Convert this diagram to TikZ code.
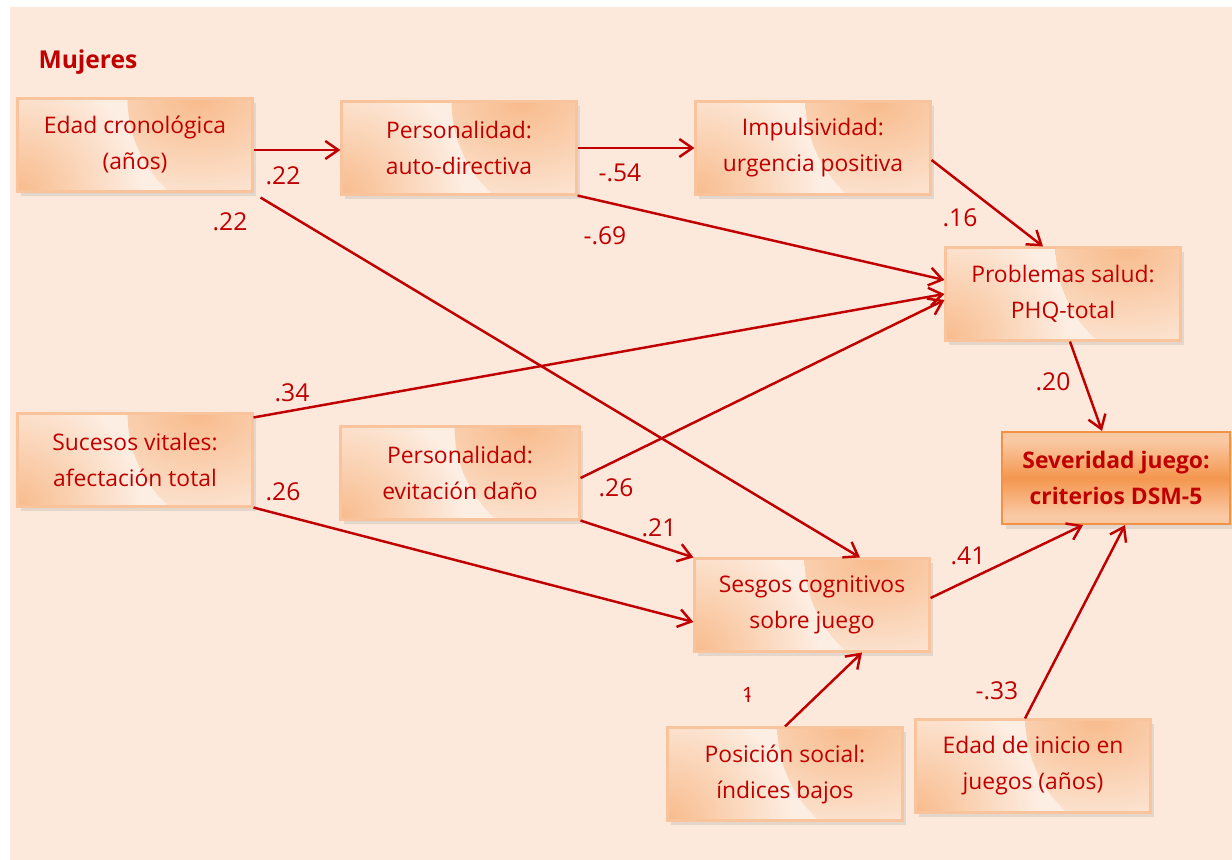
\documentclass[tikz,border=0pt]{standalone}
\usepackage{fontspec}
\setmainfont{Open Sans}
\usetikzlibrary{arrows.meta,shadows}

\definecolor{rojo}{HTML}{C00000}
\definecolor{fondo}{HTML}{FCE9DC}
\definecolor{naranja}{HTML}{F8BB8C}
\definecolor{crema}{HTML}{FDEEE3}
\definecolor{borde}{HTML}{F9C49B}
\definecolor{fuerte}{HTML}{F4964E}
\definecolor{fuerteborde}{HTML}{F39147}

\pgfdeclareradialshading{esquina}{\pgfpoint{0bp}{0bp}}{color(0bp)=(naranja); color(25bp)=(crema); color(50bp)=(crema)}
\pgfdeclareverticalshading{cajafuerte}{100bp}{color(0bp)=(naranja!80); color(30bp)=(naranja!80); color(50bp)=(fuerte);
  color(70bp)=(naranja!80); color(100bp)=(naranja!80)}

\begin{document}
\begin{tikzpicture}[font=\fontsize{13}{20.5}\selectfont, text=rojo]

% fondo
\fill[white] (0,0) rectangle (24.64,-17.2);
\fill[fondo] (0.2,-0.14) rectangle (24.64,-17.2);
\useasboundingbox (0,0) rectangle (24.64,-17.2);

\tikzstyle{box}=[rectangle,draw=borde,line width=1.2pt,minimum width=4.7cm,minimum height=1.86cm,
  align=center,inner sep=2pt,fill=crema,
  path picture={\shade[shading=esquina] (path picture bounding box.north east) circle (2.5cm);
    \shade[shading=esquina] (path picture bounding box.south west) circle (2.5cm);},
  drop shadow={shadow xshift=0.07cm,shadow yshift=-0.09cm,opacity=0.18}]
\tikzstyle{final}=[rectangle,draw=fuerteborde,line width=1.2pt,align=center,inner sep=2pt,
  shading=cajafuerte,drop shadow={shadow xshift=0.07cm,shadow yshift=-0.09cm,opacity=0.18},
  minimum width=4.56cm,minimum height=1.84cm,font=\fontsize{13}{20.5}\selectfont\bfseries]
\tikzstyle{coef}=[font=\fontsize{14}{16}\selectfont,inner sep=0pt]
\tikzstyle{path}=[draw=rojo,line width=1.4pt,-{Straight Barb[length=2.6mm,width=3.6mm,line width=1.4pt]}]

\node[font=\fontsize{14}{16}\selectfont\bfseries] (titulo) at (1.76,-1.24) {Mujeres};

  \foreach \name/\x/\y/\text in {edad/2.70/-2.90/{Edad cronológica\\(años)},
      autodir/9.18/-2.96/{Personalidad:\\auto-directiva},
      impuls/16.26/-2.96/{Impulsividad:\\urgencia positiva},
      phq/21.26/-5.88/{Problemas salud:\\PHQ-total},
      suc/2.70/-9.20/{Sucesos vitales:\\afectación total},
      sesgos/16.24/-12.10/{Sesgos cognitivos\\sobre juego},
      pos/15.70/-15.48/{Posición social:\\índices bajos},
      inicio/20.66/-15.32/{Edad de inicio en\\juegos (años)}}
    \node[box] (\name) at (\x,\y) {\text};
\node[box,minimum width=4.78cm] (evit) at (9.20,-9.46) {Personalidad:\\evitación daño};
\node[final] (sev) at (22.32,-9.56) {Severidad juego:\\criterios DSM-5};

  \draw[path] ([yshift=-0.1cm]edad.east) -- ([yshift=-0.04cm]autodir.west);
  \draw[path] ([xshift=0.14cm,yshift=-0.1cm]edad.south east) -- ([xshift=0.96cm]sesgos.north);
  \draw[path] (autodir.east) -- (impuls.west);
  \draw[path] (autodir.south east) -- ([yshift=0.28cm]phq.west);
  \draw[path] ([yshift=-0.24cm]impuls.east) -- ([xshift=-0.4cm]phq.north);
  \draw[path] ([yshift=-0.1cm]suc.north east) -- (phq.west);
  \draw[path] (suc.south east) -- ([yshift=-0.34cm]sesgos.west);
  \draw[path] ([yshift=-0.1cm]evit.east) -- ([yshift=-0.12cm]phq.west);
  \draw[path] (evit.south east) -- (sesgos.north west);
  \draw[path] ([xshift=0.14cm]phq.south) -- ([xshift=-0.28cm]sev.north);
  \draw[path] ([yshift=0.14cm]sesgos.east) -- ([xshift=-0.66cm]sev.south);
  \draw[path] (pos.north) -- ([xshift=1.0cm]sesgos.south);
  \draw[path] ([xshift=-0.16cm]inicio.north) -- ([xshift=0.18cm]sev.south);

  % coeficientes
  \node[coef] at (5.66,-3.52) {.22};
  \node[coef] at (4.60,-4.44) {.22};
  \node[coef] at (12.40,-3.46) {-.54};
  \node[coef] at (12.10,-4.72) {-.69};
  \node[coef] at (19.20,-4.36) {.16};
  \node[coef] at (5.84,-7.86) {.34};
  \node[coef] at (5.66,-9.84) {.26};
  \node[coef] at (12.32,-9.76) {.26};
  \node[coef] at (13.18,-10.56) {.21};
  \node[coef] at (21.06,-7.64) {.20};
  \node[coef] at (19.36,-11.12) {.41};
  \node[coef,font=\fontsize{12}{13}\selectfont] at (14.96,-13.90) {\ooalign{1\cr\hidewidth\raisebox{-0.05ex}{-}\hidewidth\cr}};
  \node[coef] at (19.94,-13.82) {-.33};

\end{tikzpicture}
\end{document}
